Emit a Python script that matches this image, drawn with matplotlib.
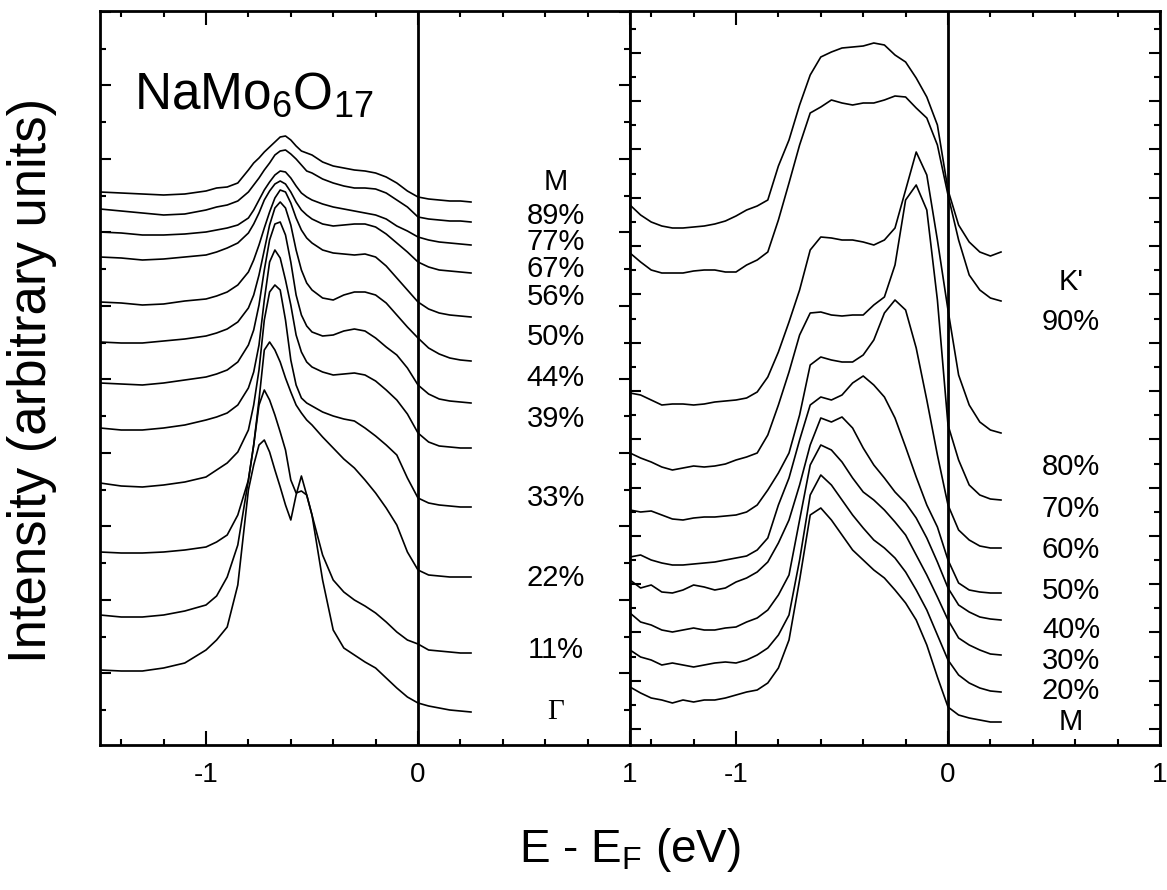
import matplotlib
matplotlib.use("Agg")
import matplotlib.pyplot as plt
from matplotlib.ticker import FixedLocator, MultipleLocator

plt.rcParams['font.family'] = ['Liberation Sans', 'DejaVu Sans']
plt.rcParams['mathtext.fontset'] = 'custom'
plt.rcParams['mathtext.rm'] = 'Liberation Sans'
plt.rcParams['mathtext.it'] = 'Liberation Sans:italic'

# ---- data (energy in eV, intensity in arbitrary units) ----
e_left = [-1.5, -1.4, -1.3, -1.2, -1.1, -1.0, -0.95, -0.9, -0.85, -0.8, -0.775,
          -0.75, -0.725, -0.7, -0.675, -0.65, -0.625, -0.6, -0.575, -0.55, -0.525,
          -0.5, -0.45, -0.4, -0.35, -0.3, -0.25, -0.2, -0.15, -0.1, -0.05, 0.0,
          0.05, 0.1, 0.15, 0.2, 0.25]

left_M   = [553, 552, 551, 550, 551, 554, 557, 558, 562, 575, 582, 587, 593, 598, 603, 608, 609, 605, 599, 594, 592, 590, 583, 579, 577, 575, 574, 572, 568, 562, 554, 548, 546, 545, 544, 544, 543]
left_89  = [536, 534, 532, 530, 531, 535, 538, 540, 544, 553, 560, 567, 575, 582, 590, 594, 595, 591, 586, 580, 574, 572, 566, 562, 559, 557, 557, 556, 552, 545, 538, 528, 526, 525, 524, 524, 523]
left_77  = [513, 512, 510, 510, 511, 513, 515, 517, 520, 527, 535, 545, 555, 563, 570, 574, 573, 567, 559, 552, 548, 545, 541, 538, 536, 534, 532, 530, 526, 519, 514, 508, 505, 503, 502, 501, 500]
left_67  = [488, 487, 485, 486, 488, 490, 493, 497, 502, 512, 521, 532, 545, 554, 561, 564, 561, 553, 543, 535, 530, 526, 521, 519, 520, 521, 521, 518, 511, 502, 493, 483, 478, 475, 474, 473, 472]
left_56  = [443, 442, 440, 441, 444, 446, 449, 453, 460, 473, 485, 500, 517, 533, 547, 555, 553, 542, 527, 515, 507, 502, 495, 492, 491, 490, 491, 488, 479, 467, 455, 443, 436, 432, 430, 429, 428]
left_50  = [403, 402, 402, 404, 406, 409, 412, 416, 423, 437, 450, 470, 495, 520, 537, 543, 537, 520, 495, 475, 462, 455, 447, 445, 450, 453, 453, 450, 442, 430, 418, 407, 397, 391, 387, 385, 384]
left_44  = [362, 361, 360, 362, 365, 368, 371, 375, 383, 400, 415, 440, 475, 505, 521, 523, 510, 483, 450, 430, 419, 413, 409, 410, 414, 416, 414, 407, 398, 390, 377, 360, 351, 346, 344, 343, 342]
left_39  = [317, 315, 315, 317, 320, 325, 328, 332, 340, 357, 373, 400, 445, 483, 495, 487, 465, 440, 410, 393, 383, 378, 373, 370, 371, 372, 370, 364, 355, 345, 331, 312, 303, 299, 298, 297, 297]
left_33  = [262, 259, 258, 260, 263, 268, 275, 282, 293, 315, 340, 375, 425, 453, 460, 455, 425, 385, 360, 347, 342, 339, 333, 329, 326, 324, 317, 309, 300, 290, 267, 247, 242, 240, 239, 238, 238]
left_22  = [193, 192, 192, 193, 195, 198, 203, 210, 230, 265, 300, 345, 395, 403, 395, 383, 367, 353, 340, 332, 325, 320, 308, 297, 286, 277, 265, 252, 237, 220, 193, 175, 170, 169, 168, 168, 168]
left_11  = [130, 128, 128, 130, 134, 140, 149, 168, 200, 265, 300, 340, 355, 345, 330, 313, 295, 265, 252, 254, 250, 230, 190, 165, 153, 145, 139, 132, 123, 113, 105, 101, 95, 94, 93, 92, 92]
left_G   = [75, 74, 74, 77, 82, 95, 105, 118, 160, 255, 280, 300, 305, 293, 275, 258, 240, 225, 250, 269, 250, 230, 165, 115, 97, 90, 83, 77, 67, 57, 48, 42, 39, 37, 35, 34, 33]

left_labels = ['M', '89%', '77%', '67%', '56%', '50%', '44%', '39%', '33%', '22%', '11%', '\u0393']
left_label_y = [563, 529, 503, 476, 448, 408, 367, 326, 247, 167, 95, 33]

e_right = [-1.5, -1.45, -1.4, -1.35, -1.3, -1.25, -1.2, -1.15, -1.1, -1.05, -1.0,
           -0.95, -0.9, -0.85, -0.8, -0.75, -0.7, -0.65, -0.6, -0.55, -0.5, -0.45,
           -0.4, -0.35, -0.3, -0.25, -0.2, -0.15, -0.1, -0.05, 0.0, 0.05, 0.1,
           0.15, 0.2, 0.25]

right_K  = [540, 530, 523, 519, 517, 517, 518, 519, 521, 524, 529, 535, 539, 545, 579, 605, 640, 670, 688, 693, 697, 698, 699, 702, 700, 690, 683, 667, 648, 620, 555, 520, 503, 493, 489, 493]
right_90 = [492, 483, 475, 472, 472, 472, 474, 475, 475, 473, 473, 480, 485, 493, 525, 562, 600, 632, 638, 645, 642, 640, 642, 642, 645, 649, 648, 637, 627, 600, 550, 505, 470, 455, 447, 444]
right_80 = [352, 350, 345, 340, 341, 341, 340, 341, 343, 344, 345, 347, 353, 368, 393, 423, 455, 495, 508, 507, 505, 505, 503, 500, 505, 517, 555, 593, 570, 505, 435, 370, 340, 323, 315, 312]
right_70 = [292, 287, 283, 278, 275, 277, 279, 278, 279, 281, 285, 288, 292, 310, 340, 373, 410, 432, 433, 430, 429, 430, 430, 440, 448, 480, 545, 560, 535, 445, 320, 285, 260, 250, 246, 245]
right_60 = [235, 233, 234, 230, 226, 225, 227, 228, 228, 229, 230, 233, 240, 255, 272, 292, 330, 380, 388, 385, 383, 383, 390, 405, 432, 445, 435, 397, 345, 290, 240, 215, 205, 199, 197, 197]
right_50 = [188, 190, 185, 182, 180, 180, 181, 182, 183, 185, 187, 189, 195, 207, 240, 267, 305, 340, 348, 345, 350, 362, 369, 360, 348, 327, 298, 268, 240, 218, 185, 162, 155, 153, 152, 152]
right_40 = [165, 157, 160, 153, 152, 155, 160, 158, 155, 157, 163, 167, 173, 183, 202, 225, 260, 300, 327, 323, 328, 317, 297, 280, 267, 253, 242, 227, 207, 183, 157, 140, 133, 128, 126, 125]
right_30 = [132, 123, 120, 115, 113, 115, 117, 115, 115, 117, 118, 123, 127, 135, 150, 170, 225, 280, 300, 295, 283, 267, 253, 245, 235, 223, 210, 190, 170, 148, 125, 107, 100, 95, 91, 90]
right_20 = [95, 88, 85, 80, 82, 80, 78, 80, 82, 83, 82, 85, 90, 97, 110, 130, 185, 250, 270, 260, 245, 230, 217, 205, 197, 187, 173, 155, 135, 110, 85, 70, 62, 57, 54, 53]
right_M  = [58, 52, 47, 45, 42, 45, 43, 45, 45, 47, 50, 53, 55, 62, 77, 105, 165, 230, 237, 225, 210, 195, 185, 175, 167, 155, 142, 125, 100, 68, 38, 30, 27, 25, 23, 23]

right_labels = ["K'", '90%', '80%', '70%', '60%', '50%', '40%', '30%', '20%', 'M']
right_label_y = [463, 423, 278, 236, 195, 154, 115, 84, 54, 23]

left_curves = [left_M, left_89, left_77, left_67, left_56, left_50, left_44,
               left_39, left_33, left_22, left_11, left_G]
right_curves = [right_K, right_90, right_80, right_70, right_60, right_50,
                right_40, right_30, right_20, right_M]

# ---- figure ----
fig = plt.figure(figsize=(11.67, 8.9), dpi=100)
ax1 = fig.add_axes([100 / 1167, 145 / 890, 530 / 1167, 734 / 890])
ax2 = fig.add_axes([630 / 1167, 145 / 890, 530 / 1167, 734 / 890])

for ax, e, curves in [(ax1, e_left, left_curves), (ax2, e_right, right_curves)]:
    for c in curves:
        ax.plot(e, c, color='black', lw=1.2)
    ax.axvline(0, color='black', lw=2)
    ax.set_xlim(-1.5, 1.0)
    ax.set_ylim(0, 734)
    ax.xaxis.set_major_locator(FixedLocator([-1, 0, 1]))
    ax.xaxis.set_minor_locator(MultipleLocator(0.2))
    ax.set_xticklabels(['-1', '0', '1'])
    ax.tick_params(which='both', direction='in', top=True, right=True, width=1.5)
    ax.tick_params(which='major', length=8, labelsize=20, pad=12)
    ax.tick_params(which='minor', length=4)
    ax.tick_params(axis='x', which='major', length=10)
    for s in ax.spines.values():
        s.set_linewidth(2)

# left panel: coarser tick spacing, right panel: finer
ax1.yaxis.set_major_locator(FixedLocator([72 + 73.5 * k for k in range(10)]))
ax1.yaxis.set_minor_locator(FixedLocator([35 + 73.5 * k for k in range(10)]))
ax2.yaxis.set_major_locator(FixedLocator([16 + 48.3 * k for k in range(16)]))
ax2.yaxis.set_minor_locator(FixedLocator([40 + 48.3 * k for k in range(15)]))
ax1.set_yticklabels([])
ax2.set_yticklabels([])

for lab, y in zip(left_labels, left_label_y):
    fam = ['Liberation Serif'] if lab == '\u0393' else None
    ax1.text(0.65, y, lab, fontsize=21, ha='center', va='center', family=fam)
for lab, y in zip(right_labels, right_label_y):
    ax2.text(0.58, y, lab, fontsize=21, ha='center', va='center')

ax1.text(-1.34, 650, r'NaMo$_6$O$_{17}$', fontsize=37, ha='left', va='center')

fig.text(32 / 1167, 1 - 380 / 890, 'Intensity (arbitrary units)', rotation=90,
         fontsize=38, ha='center', va='center')
fig.text(630 / 1167, 1 - 850 / 890, r'E - E$_\mathregular{F}$ (eV)', fontsize=33,
         ha='center', va='center')

fig.savefig('out.png', dpi=100)
